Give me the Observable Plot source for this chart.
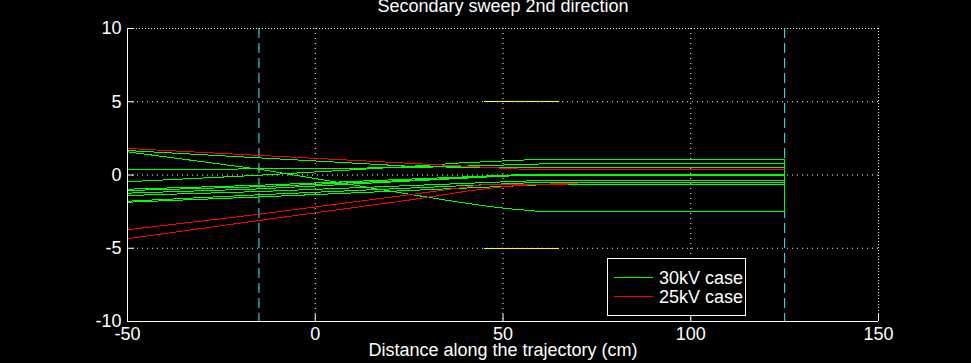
<!DOCTYPE html>
<html><head><meta charset="utf-8">
<script src="https://cdn.jsdelivr.net/npm/d3@7"></script>
<script src="https://cdn.jsdelivr.net/npm/@observablehq/plot@0.6"></script>
<style>
html,body{margin:0;padding:0;background:#000;overflow:hidden;}
</style></head><body><div id="chart"></div>
<script>
const title = "Secondary sweep 2nd direction";
const xLabel = "Distance along the trajectory (cm)";
const xTicks = [-50, 0, 50, 100, 150];
const yTicks = [-10, -5, 0, 5, 10];
const xGrid = [0, 50, 100];
const yGrid = [-5, 0, 5];
const markerX = [-15, 125];
const yellowX = [45, 65];
const yellowY = [5, -5];

// 30kV case traces (green)
const green1 = [[-50, 1.67], [25, 0.6], [45, 0.49], [125, 0.49]];
const green2 = [[-50, 1.58], [-15, 0.4], [17.6, -1.0], [23, -1.22], [31, -1.56], [39, -1.88], [47, -2.17], [52, -2.31], [59, -2.47], [66, -2.51], [125, -2.51]];
const green3 = [[-50, 0.35], [-15, 0.42], [25, 0.5], [61, 0.76], [125, 0.76]];
const green4 = [[-50, -0.46], [-16, -0.03], [23, 0.55], [39, 0.83], [57, 1.04], [125, 1.04]];
const green5 = [[-50, -0.97], [-15, -0.7], [55, 0.03], [125, 0.03]];
const green6 = [[-50, -1.06], [-15, -0.8], [55, -0.03], [125, -0.03]];
const green7 = [[-50, -1.24], [-15, -0.95], [56, 0.0], [125, 0.0]];
const green8 = [[-50, -1.4], [-15, -1.13], [57, -0.4], [125, -0.4]];
const green9 = [[-50, -1.79], [-15, -1.35], [57, -0.53], [125, -0.53]];
const green10 = [[-50, -1.86], [-15, -1.5], [60, -0.67], [125, -0.67]];
const greenEnd = [[125, 1.04], [125, -2.51]];

// 25kV case traces (red)
const red1 = [[-50, 1.81], [57, 0.37], [125, 0.37]];
const red2 = [[-50, -3.74], [-15.7, -2.7], [25.6, -1.33], [45, -0.65], [70, -0.6]];
const red3 = [[-50, -4.35], [-15.7, -3.13], [25.6, -1.69], [41.5, -1.06], [50.8, -0.78], [57, -0.67], [70, -0.6]];

const legendLabels = ["30kV case", "25kV case"];
const legendColors = ["#00ff00", "#ff0000"];

const greenTraces = [green1, green2, green3, green4, green5, green6, green7, green8, green9, green10, greenEnd];
const redTraces = [red1, red2, red3];
const toRows = traces => traces.flatMap((t, i) => t.map(([x, y]) => ({x, y, id: i})));
const greenRows = toRows(greenTraces);
const redRows = toRows(redTraces);
const yellowRows = yellowY.map(y => ({x1: yellowX[0], x2: yellowX[1], y}));

const W = 971, H = 363, mL = 127, mR = 93, mT = 28, mB = 42;
const plotW = W - mL - mR, plotH = H - mT - mB;
const font = "'Liberation Sans', Arial, sans-serif";

const chart = Plot.plot({
  width: W, height: H,
  marginLeft: mL, marginRight: mR, marginTop: mT, marginBottom: mB,
  style: {background: "#000", color: "#fff", fontFamily: font, fontSize: "18px"},
  x: {domain: [-50, 150]},
  y: {domain: [-10, 10]},
  marks: [
    Plot.ruleX(xGrid, {stroke: "#fff", strokeDasharray: "1,4", strokeOpacity: 1}),
    Plot.ruleY(yGrid, {stroke: "#fff", strokeDasharray: "1,4", strokeOpacity: 1}),
    Plot.ruleY([10], {stroke: "#fff", strokeDasharray: "1,2"}),
    Plot.ruleX([150], {stroke: "#fff", strokeDasharray: "1,2"}),
    Plot.ruleX(markerX, {stroke: "#40f0f8", strokeDasharray: "10,5"}),
    Plot.ruleY(yellowRows, {x1: "x1", x2: "x2", y: "y", stroke: "#ffff00", shapeRendering: "crispEdges"}),
    Plot.line(greenRows, {x: "x", y: "y", z: "id", stroke: "#00ff00", strokeWidth: 1, shapeRendering: "crispEdges"}),
    Plot.line(redRows, {x: "x", y: "y", z: "id", stroke: "#ff0000", strokeWidth: 1, shapeRendering: "crispEdges"}),
    Plot.ruleX([-50], {stroke: "#fff"}),
    Plot.ruleY([-10], {stroke: "#fff"}),
    Plot.tickX(xTicks, {x: d => d, stroke: "#fff", insetTop: plotH - 7}),
    Plot.tickY(yTicks, {y: d => d, stroke: "#fff", insetRight: plotW - 7}),
    Plot.axisX({ticks: xTicks, tickSize: 0, tickPadding: 6, tickFormat: d => String(d),
      label: xLabel, labelAnchor: "center", labelArrow: "none", labelOffset: 34}),
    Plot.axisY({ticks: yTicks, tickSize: 0, tickPadding: 6, tickFormat: d => String(d), label: null}),
    Plot.text([title], {frameAnchor: "top", dy: -29, fill: "#fff", fontSize: 18})
  ]
});

const svg = d3.select(chart);
const lg = svg.append("g").attr("font-family", font).attr("font-size", 18).attr("text-anchor", "start");
lg.append("rect").attr("x", 607.5).attr("y", 258.5).attr("width", 138).attr("height", 57)
  .attr("fill", "#000").attr("stroke", "#fff");
legendLabels.forEach((lab, i) => {
  const y = 277.5 + i * 19;
  lg.append("line").attr("x1", 614).attr("x2", 653).attr("y1", y).attr("y2", y)
    .attr("stroke", legendColors[i]).attr("shape-rendering", "crispEdges");
  lg.append("text").attr("x", 659).attr("y", 283.5 + i * 19).attr("fill", "#fff")
    .attr("text-anchor", "start").text(lab);
});

document.getElementById("chart").appendChild(chart);
</script>
</body></html>
